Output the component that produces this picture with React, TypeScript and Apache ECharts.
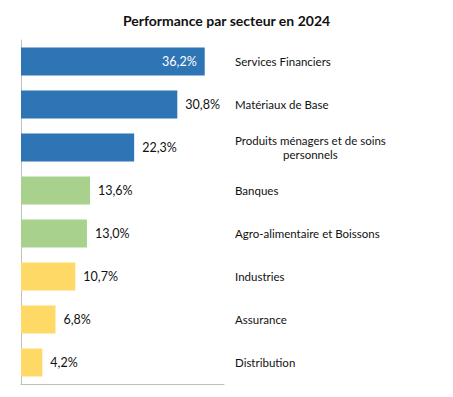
import React, { useEffect, useRef } from "react";
import * as echarts from "echarts";

const categories = [
  "Services Financiers",
  "Matériaux de Base",
  "Produits ménagers et de soins\npersonnels",
  "Banques",
  "Agro-alimentaire et Boissons",
  "Industries",
  "Assurance",
  "Distribution",
];
const values = [36.2, 30.8, 22.3, 13.6, 13.0, 10.7, 6.8, 4.2];
const colors = ["#2E75B6", "#2E75B6", "#2E75B6", "#A9D18E", "#A9D18E", "#FFD966", "#FFD966", "#FFD966"];
const title = "Performance par secteur en 2024";

const FONT = "Lato, 'Open Sans', sans-serif";

export default function App() {
  const ref = useRef<HTMLDivElement>(null);
  useEffect(() => {
    if (!ref.current) return;
    const chart = echarts.init(ref.current, undefined, { renderer: "svg" });
    chart.setOption({
      animation: false,
      backgroundColor: "#ffffff",
      title: {
        text: title,
        left: "center",
        top: 8,
        textStyle: { fontFamily: FONT, fontSize: 14, fontWeight: "bold", color: "#111" },
      },
      grid: { left: 21, top: 40, width: 203, height: 344, containLabel: false },
      xAxis: {
        type: "value",
        min: 0,
        max: 40,
        axisLine: { show: true, lineStyle: { color: "#BFBFBF", width: 1 } },
        axisTick: { show: false },
        axisLabel: { show: false },
        splitLine: { show: false },
      },
      yAxis: [
        {
          type: "category",
          data: categories,
          inverse: true,
          position: "left",
          axisLine: { show: true, lineStyle: { color: "#BFBFBF", width: 1 } },
          axisTick: { show: false },
          axisLabel: { show: false },
        },
        {
          type: "category",
          data: categories,
          inverse: true,
          position: "right",
          offset: 11,
          axisLine: { show: false },
          axisTick: { show: false },
          axisLabel: {
            show: true,
            align: "left",
            margin: 0,
            fontFamily: FONT,
            fontSize: 11.5,
            color: "#111",
            formatter: (v: string) => {
              const parts = v.split("\n");
              if (parts.length === 1) return v;
              return `{a|${parts[0]}}\n{b|${parts[1]}}`;
            },
            rich: {
              a: { fontFamily: FONT, fontSize: 11.5, color: "#111", lineHeight: 14 },
              b: { fontFamily: FONT, fontSize: 11.5, color: "#111", lineHeight: 14, width: 150, align: "center" },
            },
          },
        },
      ],
      series: [
        {
          type: "bar",
          yAxisIndex: 0,
          barWidth: 28,
          data: values.map((v, i) => ({
            value: v,
            itemStyle: { color: colors[i] },
            label:
              i === 0
                ? { position: "insideRight", color: "#ffffff", distance: 8 }
                : { position: "right", color: "#111", distance: 8 },
          })),
          label: {
            show: true,
            fontFamily: FONT,
            fontSize: 12.5,
            formatter: (p: any) => p.value.toFixed(1).replace(".", ",") + "%",
          },
        },
      ],
    });
    return () => chart.dispose();
  }, []);
  return <div ref={ref} style={{ width: 453, height: 397, margin: -8 }} />;
}
